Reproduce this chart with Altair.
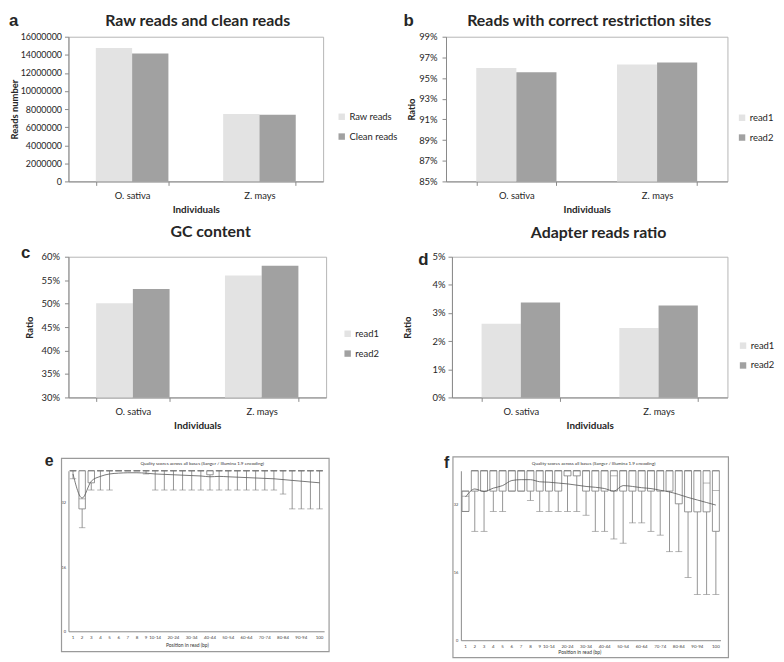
import altair as alt
import pandas as pd

FONT = "Lato"
LETTER_FONT = "Liberation Sans"
LIGHT = "#e3e3e3"
DARK = "#a1a1a1"
AXIS = "#8a8a8a"
FRAME = "#b5b5b5"
TEXT = "#262626"
QC = "#7a7a7a"

# ---------------- data ----------------
individuals = ["O. sativa", "Z. mays"]
raw_reads = [14750000, 7450000]
clean_reads = [14150000, 7380000]
site_read1 = [0.9597, 0.9632]
site_read2 = [0.9555, 0.9651]
gc_read1 = [0.501, 0.560]
gc_read2 = [0.531, 0.581]
adapter_read1 = [0.0262, 0.0247]
adapter_read2 = [0.0337, 0.0327]

reads_ticks = [0, 2000000, 4000000, 6000000, 8000000, 10000000, 12000000, 14000000, 16000000]
site_ticks = [0.85, 0.87, 0.89, 0.91, 0.93, 0.95, 0.97, 0.99]
gc_ticks = [0.30, 0.35, 0.40, 0.45, 0.50, 0.55, 0.60]
adapter_ticks = [0.0, 0.01, 0.02, 0.03, 0.04, 0.05]

positions = ["1", "2", "3", "4", "5", "6", "7", "8", "9",
             "10-14", "15-19", "20-24", "25-29", "30-34", "35-39", "40-44", "45-49",
             "50-54", "55-59", "60-64", "65-69", "70-74", "75-79", "80-84", "85-89",
             "90-94", "95-99", "100"]
shown_positions = ["1", "2", "3", "4", "5", "6", "7", "8", "9", "10-14", "20-24", "30-34",
                   "40-44", "50-54", "60-64", "70-74", "80-84", "90-94", "100"]
q_ticks = [0, 2, 4, 6, 8, 10, 12, 14, 16, 18, 20, 22, 24, 26, 28, 30, 32, 34, 36, 38, 40]

# panel e (O. sativa quality per base)
e_low = [38, 25.8, 35.2, 35.2, 35.2, 40, 40, 40, 39.2,
         35.2, 35.2, 35.2, 35.2, 35.2, 35.2, 35.2, 35.2, 35.2, 35.2, 35.2, 35.2, 35.2, 35.2,
         34.2, 30.5, 30.5, 30.5, 30.5]
e_q1 = [40, 30.5, 37, 40, 40, 40, 40, 40, 40,
        40, 40, 40, 40, 40, 40, 39, 40, 40, 40, 40, 40, 40, 40,
        40, 40, 40, 40, 40]
e_med = [40, 33, 40, 40, 40, 40, 40, 40, 40,
         40, 40, 40, 40, 40, 40, 40, 40, 40, 40, 40, 40, 40, 40,
         40, 40, 40, 40, 40]
e_q3 = [40] * 28
e_high = [40] * 28
e_mean = [39.2, 33.2, 37.4, 38.6, 39.2, 39.4, 39.5, 39.5, 39.4,
          39.2, 39.1, 39.0, 38.9, 38.8, 38.7, 38.5, 38.6, 38.5, 38.4, 38.3, 38.2, 38.1, 38.0,
          37.8, 37.6, 37.4, 37.2, 37.0]

# panel f (Z. mays quality per base)
f_low = [30.4, 25.7, 25.7, 30.4, 30.4, 35.2, 35.2, 33.0, 30.4,
         30.4, 30.4, 30.4, 30.4, 29.5, 25.7, 25.7, 23.9, 22.9, 27.7, 27.7, 25.7, 24.8, 20.9,
         20.9, 14.8, 10.8, 10.8, 10.8]
f_q1 = [30.4, 35.2, 35.2, 35.2, 35.2, 35.2, 35.2, 35.2, 35.2,
        35.2, 35.2, 38.8, 38.8, 35.2, 35.2, 35.2, 35.2, 35.2, 35.2, 35.2, 35.2, 35.2, 35.2,
        32.2, 30.3, 30.3, 30.3, 25.7]
f_med = [34.0, 40, 40, 40, 40, 40, 40, 40, 40,
         40, 40, 40, 40, 40, 40, 40, 38.8, 40, 40, 40, 40, 40, 40,
         40, 40, 40, 37.1, 35.3]
f_q3 = [35.2] + [40] * 27
f_high = [35.2] + [40] * 27
f_mean = [33.8, 35.7, 35.1, 35.9, 36.5, 37.7, 37.9, 37.9, 37.4,
          37.3, 37.1, 36.9, 36.6, 36.3, 36.1, 35.8, 35.2, 36.5, 36.3, 36.0, 35.8, 35.4, 35.0,
          34.4, 33.7, 33.1, 32.5, 31.9]


def text_layer(txt, x, y, size, font=FONT, weight="bold", align="center", baseline="alphabetic", color=TEXT):
    return alt.Chart(pd.DataFrame({"t": [txt]})).mark_text(
        font=font, fontSize=size, fontWeight=weight, align=align, baseline=baseline, color=color
    ).encode(text="t:N", x=alt.value(x), y=alt.value(y))


def bar_panel(letter, title, series, v1, v2, ytitle, domain, ticks, fmt, width, height,
              legend_x, legend_y, title_dx, title_y, letter_x, letter_y, ytitle_pad, ylabel_pad,
              ylabel_size=9.5, head_baseline="alphabetic"):
    df = pd.DataFrame({
        "Individual": individuals + individuals,
        "Series": [series[0]] * 2 + [series[1]] * 2,
        "Value": v1 + v2,
    })
    bars = alt.Chart(df).mark_bar(clip=True).encode(
        x=alt.X("Individual:N", sort=individuals,
                scale=alt.Scale(paddingInner=0.43, paddingOuter=0.215),
                axis=alt.Axis(title="Individuals", labelAngle=0, tickBand="extent",
                              domainColor=AXIS, tickColor=AXIS, tickSize=4,
                              labelFont=FONT, labelFontSize=9.5, labelColor=TEXT, labelPadding=5,
                              titleFont=FONT, titleFontSize=10, titleFontWeight="bold",
                              titleColor=TEXT, titlePadding=5)),
        xOffset=alt.XOffset("Series:N", sort=series,
                            scale=alt.Scale(domain=series, paddingInner=0, paddingOuter=0)),
        y=alt.Y("Value:Q", scale=alt.Scale(domain=domain, nice=False, zero=False),
                axis=alt.Axis(title=ytitle, values=ticks, format=fmt, grid=False,
                              domainColor=AXIS, tickColor=AXIS, tickSize=4,
                              labelFont=FONT, labelFontSize=ylabel_size, labelColor=TEXT,
                              labelPadding=ylabel_pad,
                              titleFont=FONT, titleFontSize=9.5, titleFontWeight="bold",
                              titleColor=TEXT, titlePadding=ytitle_pad)),
        color=alt.Color("Series:N", sort=series,
                        scale=alt.Scale(domain=series, range=[LIGHT, DARK]),
                        legend=alt.Legend(title=None, orient="none", legendX=legend_x,
                                          legendY=legend_y, symbolType="square", symbolSize=42,
                                          symbolStrokeWidth=0, labelFont=FONT, labelFontSize=9.5,
                                          labelColor=TEXT, rowPadding=9, padding=0,
                                          labelOffset=3)),
    )
    letter_mark = text_layer(letter, letter_x, letter_y, 17, font=LETTER_FONT, align="left",
                             baseline=head_baseline)
    title_mark = text_layer(title, width / 2 + title_dx, title_y, 16, baseline=head_baseline)
    return alt.layer(bars, letter_mark, title_mark).properties(
        width=width, height=height, view=alt.ViewBackground(stroke=FRAME, strokeWidth=1))


def qc_panel(letter, low, q1, med, q3, high, mean, width, height, box, frame, title_x, title_y,
             xtitle_x, xtitle_y, letter_x, letter_y):
    df = pd.DataFrame({"Position": positions, "low": low, "q1": q1, "med": med,
                       "q3": q3, "high": high, "mean": mean})
    base = alt.Chart(df)
    x = alt.X("Position:N", sort=positions, scale=alt.Scale(paddingInner=0, paddingOuter=0),
              axis=alt.Axis(title=None, values=shown_positions, labelAngle=0, tickSize=0,
                            labelOverlap=False, labelFont=FONT, labelFontSize=4.5,
                            labelColor="#444", labelPadding=3, domainColor=AXIS))
    yscale = alt.Scale(domain=[0, 40], nice=False)
    yaxis = alt.Axis(title=None, values=q_ticks, grid=False, tickSize=0, labelOverlap=False,
                     labelFont=FONT, labelFontSize=4, labelColor="#444", labelPadding=3,
                     domainColor=AXIS)
    whisk_lo = base.mark_rule(color=QC, strokeWidth=0.8).encode(
        x=x, y=alt.Y("low:Q", scale=yscale, axis=yaxis), y2="q1:Q")
    whisk_hi = base.mark_rule(color=QC, strokeWidth=0.8).encode(
        x=x, y=alt.Y("q3:Q", scale=yscale), y2="high:Q")
    boxes = base.mark_bar(fill="white", stroke=QC, strokeWidth=0.8, size=box).encode(
        x=x, y=alt.Y("q1:Q", scale=yscale), y2="q3:Q")
    cap_lo = base.mark_tick(color=QC, thickness=0.8, size=box).encode(
        x=x, y=alt.Y("low:Q", scale=yscale))
    cap_hi = base.mark_tick(color=QC, thickness=0.8, size=box).encode(
        x=x, y=alt.Y("high:Q", scale=yscale))
    median = base.mark_tick(color=QC, thickness=0.8, size=box).encode(
        x=x, y=alt.Y("med:Q", scale=yscale))
    mean_line = base.mark_line(color="#555555", strokeWidth=0.8, interpolate="monotone").encode(
        x=x, y=alt.Y("mean:Q", scale=yscale))
    frame_rect = alt.Chart(pd.DataFrame({"t": [letter]})).mark_rect(
        fillOpacity=0, stroke="#9a9a9a", strokeWidth=1.2).encode(
        x=alt.value(frame[0]), x2=alt.value(frame[1]), y=alt.value(frame[2]), y2=alt.value(frame[3]))
    title = text_layer("Quality scores across all bases (Sanger / Illumina 1.9 encoding)",
                       title_x, title_y, 4.6, weight="normal", baseline="middle", color="#333")
    xtitle = text_layer("Position in read (bp)", xtitle_x, xtitle_y, 5, weight="normal",
                        baseline="middle", color="#333")
    letter_mark = text_layer(letter, letter_x, letter_y, 16, font=LETTER_FONT, align="left")
    return alt.layer(whisk_lo, whisk_hi, boxes, cap_lo, cap_hi, median, mean_line,
                     frame_rect, title, xtitle, letter_mark).properties(
        width=width, height=height, view=alt.ViewBackground(strokeWidth=0))


panel_a = bar_panel("a", "Raw reads and clean reads", ["Raw reads", "Clean reads"],
                    raw_reads, clean_reads, "Reads number", [0, 16000000], reads_ticks, "d",
                    257, 146, 271, 76, 2, -24, -60, -24, 1, 3, ylabel_size=9,
                    head_baseline="top")
panel_b = bar_panel("b", "Reads with correct restriction sites", ["read1", "read2"],
                    site_read1, site_read2, "Ratio", [0.85, 0.99], site_ticks, ".0%",
                    284, 146, 294, 77, 2.5, -24, -43, -24, 2, 5, head_baseline="top")
panel_c = bar_panel("c", "GC content", ["read1", "read2"],
                    gc_read1, gc_read2, "Ratio", [0.30, 0.60], gc_ticks, ".0%",
                    260, 142, 277, 73, 13.5, -20, -48, 1, 7, 5)
panel_d = bar_panel("d", "Adapter reads ratio", ["read1", "read2"],
                    adapter_read1, adapter_read2, "Ratio", [0.0, 0.05], adapter_ticks, ".0%",
                    278, 142, 289, 85, 9, -19, -34, 8, 20, 3)

panel_e = qc_panel("e", e_low, e_q1, e_med, e_q3, e_high, e_mean, 258, 162, 6.5,
                   [-7, 263, -12.5, 182.5], 135, -7, 120, 175.5, -24, -4.5)
panel_f = qc_panel("f", f_low, f_q1, f_med, f_q3, f_high, f_mean, 262, 171, 7,
                   [-8, 270, -14, 188.5], 134, -6.7, 120, 182.5, -17, -3)


def indep(c):
    return c.resolve_scale(color="independent", xOffset="independent").resolve_legend(
        color="independent")


PACK = alt.RowColLayoutAlign(row="none", column="each")

row1 = indep(alt.hconcat(panel_a, panel_b, spacing=124, bounds="flush"))
row2 = indep(alt.hconcat(panel_c, panel_d, spacing=127, bounds="flush"))
row3 = alt.hconcat(panel_e, panel_f, spacing=138, bounds="flush")

top = indep(alt.concat(row1, row2, columns=1, spacing=8, align=PACK))
chart = indep(alt.concat(top, row3, columns=1, spacing=22, align=PACK)).properties(padding=0)

chart.save("out.html", embed_options={"renderer": "svg", "actions": False})
